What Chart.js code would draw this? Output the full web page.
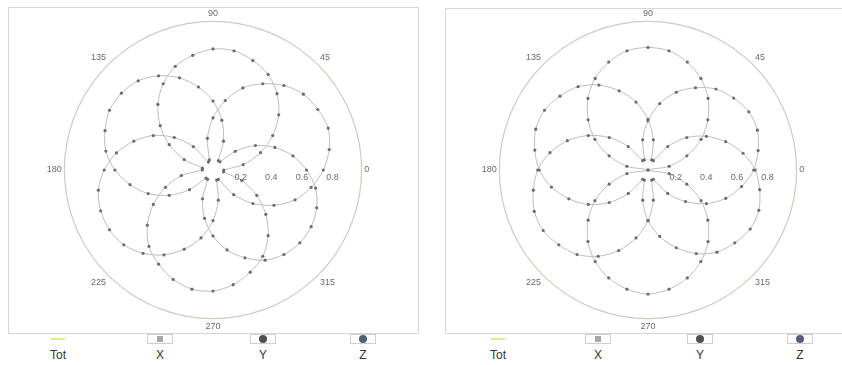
<!DOCTYPE html>
<html>
<head>
<meta charset="utf-8">
<script src="https://cdn.jsdelivr.net/npm/chart.js@4.4.1/dist/chart.umd.min.js"></script>
<style>
  html, body { margin: 0; padding: 0; background: #fff; }
  body { width: 842px; height: 365px; position: relative; overflow: hidden; font-family: "Liberation Sans", Arial, sans-serif; }
  .panel { position: absolute; border: 1px solid #d6d6d6; box-sizing: border-box; }
  #p1 { left: 8px; top: 7px; width: 411px; height: 327px; }
  #p2 { left: 445px; top: 8px; width: 406px; height: 326px; }
  .leg { position: absolute; top: 333px; width: 60px; margin-left: -30px; text-align: center; }
  .mk { height: 13px; position: relative; }
  .box { position: absolute; left: 17px; top: 1px; width: 26px; height: 10px; border: 1px solid #cfcfcf; box-sizing: border-box; }
  .sq { position: absolute; left: 27px; top: 3px; width: 6px; height: 6px; background: #a8a8a8; }
  .dot { position: absolute; left: 26px; top: 2px; width: 8px; height: 8px; border-radius: 50%; }
  .ln { position: absolute; left: 23px; top: 5px; width: 14px; height: 2px; background: #e3ea86; }
  .lt { font-size: 12px; color: #333; line-height: 14px; margin-top: 2px; }
</style>
</head>
<body>
<div class="panel" id="p1"><canvas id="c1"></canvas></div>
<div class="panel" id="p2"><canvas id="c2"></canvas></div>
<div id="legends"></div>
<script>
// ---- data (angles in degrees, counter-clockwise from 0 at right) ----
const dataAngles = [0,10,20,30,40,50,60,70,80,90,100,110,120,130,140,150,160,170,
                    180,190,200,210,220,230,240,250,260,270,280,290,300,310,320,330,340,350];
const angleLabels = [0,45,90,135,180,225,270,315];
const radialTicks = [0.2,0.4,0.6,0.8];
const seriesNames = ['Tot','X','Y','Z'];

// left plot
const totLeft = [0.97,0.97,0.97,0.97,0.97,0.97,0.97,0.97,0.97,0.97,0.97,0.97,0.97,0.97,0.97,0.97,0.97,0.97,
                 0.97,0.97,0.97,0.97,0.97,0.97,0.97,0.97,0.97,0.97,0.97,0.97,0.97,0.97,0.97,0.97,0.97,0.97];
const xLeft = [0.61,0.53,0.43,0.32,0.19,0.07,0.07,0.20,0.33,0.45,0.55,0.64,0.71,0.76,0.78,0.78,0.75,0.71,
               0.64,0.55,0.45,0.33,0.20,0.07,0.07,0.20,0.32,0.43,0.53,0.61,0.68,0.72,0.74,0.74,0.72,0.68];
const yLeft = [0.72,0.77,0.80,0.79,0.77,0.72,0.65,0.57,0.46,0.34,0.21,0.07,0.06,0.20,0.33,0.45,0.55,0.64,
               0.71,0.76,0.78,0.78,0.76,0.71,0.64,0.55,0.45,0.33,0.20,0.07,0.07,0.21,0.34,0.46,0.57,0.65];
const zLeft = [0.07,0.20,0.33,0.45,0.56,0.65,0.72,0.76,0.79,0.79,0.76,0.72,0.65,0.56,0.45,0.33,0.20,0.07,
               0.07,0.21,0.33,0.45,0.56,0.65,0.71,0.76,0.79,0.79,0.76,0.71,0.65,0.56,0.45,0.33,0.20,0.07];

// right plot
const totRight = [0.97,0.97,0.97,0.97,0.97,0.97,0.97,0.97,0.97,0.97,0.97,0.97,0.97,0.97,0.97,0.97,0.97,0.97,
                  0.97,0.97,0.97,0.97,0.97,0.97,0.97,0.97,0.97,0.97,0.97,0.97,0.97,0.97,0.97,0.97,0.97,0.97];
const xRight = [0.70,0.63,0.54,0.44,0.33,0.20,0.07,0.07,0.20,0.33,0.45,0.55,0.64,0.71,0.75,0.78,0.78,0.75,
                0.71,0.64,0.55,0.45,0.33,0.20,0.07,0.07,0.20,0.33,0.44,0.54,0.63,0.70,0.74,0.77,0.77,0.74];
const yRight = [0.69,0.73,0.76,0.76,0.73,0.69,0.62,0.54,0.44,0.32,0.20,0.07,0.07,0.20,0.33,0.45,0.56,0.65,
                0.72,0.76,0.79,0.79,0.76,0.72,0.65,0.56,0.45,0.33,0.20,0.07,0.07,0.20,0.32,0.44,0.54,0.62];
const zRight = [0.00,0.14,0.27,0.40,0.51,0.61,0.69,0.75,0.79,0.80,0.79,0.75,0.69,0.61,0.51,0.40,0.27,0.14,
                0.00,0.14,0.27,0.40,0.51,0.61,0.69,0.75,0.79,0.81,0.79,0.75,0.69,0.61,0.51,0.40,0.27,0.14];

// ---- radar category positions: 5 degree slots, clockwise from top (90) ----
const slots = [];
for (let i = 0; i < 72; i++) slots.push((450 - 5 * i) % 360);
function toSlots(values) {
  return slots.map(a => { const k = dataAngles.indexOf(a); return k >= 0 ? values[k] : null; });
}

const FONT = '"Liberation Sans", Arial, sans-serif';
const tickLabelPlugin = {
  id: 'tickLabels',
  afterDatasetsDraw(chart) {
    const r = chart.scales.r;
    const ctx = chart.ctx;
    const idx = slots.indexOf(0);
    ctx.save();
    ctx.font = '9px ' + FONT;
    ctx.fillStyle = '#6a6a6a';
    ctx.textAlign = 'center';
    ctx.textBaseline = 'middle';
    radialTicks.forEach(v => {
      const p = r.getPointPositionForValue(idx, v);
      ctx.fillText(v.toFixed(1), p.x - 3, p.y + 8);
    });
    ctx.restore();
  }
};

function lobe(label, values) {
  return {
    label, data: toSlots(values), spanGaps: true, fill: false, tension: 0.3,
    borderColor: '#bdbdbd', borderWidth: 1,
    pointRadius: 1.6, pointBackgroundColor: '#6c6c6c', pointBorderWidth: 0
  };
}

function makeChart(id, tot, x, y, z) {
  new Chart(document.getElementById(id), {
    type: 'radar',
    data: {
      labels: slots,
      datasets: [
        { label: seriesNames[0], data: toSlots(tot), spanGaps: true, fill: false, tension: 0.35,
          borderColor: '#cbcdbf', borderWidth: 1.2, pointRadius: 0 },
        lobe(seriesNames[1], x),
        lobe(seriesNames[2], y),
        lobe(seriesNames[3], z)
      ]
    },
    options: {
      responsive: true, maintainAspectRatio: false, animation: false,
      plugins: { legend: { display: false }, tooltip: { enabled: false } },
      scales: {
        r: {
          min: 0, max: 1, startAngle: 0,
          grid: { display: false },
          angleLines: { display: false },
          ticks: { display: false, stepSize: 0.2 },
          pointLabels: {
            display: true, padding: -2, color: '#6a6a6a',
            font: { size: 9, family: FONT },
            callback: (lbl) => angleLabels.includes(lbl) ? String(lbl) : ''
          }
        }
      }
    },
    plugins: [tickLabelPlugin]
  });
}

makeChart('c1', totLeft, xLeft, yLeft, zLeft);
makeChart('c2', totRight, xRight, yRight, zRight);

// ---- legends ----
const legendCenters = [[58,160,263,363],[498,598,700,800]];
const markers = [
  '<div class="ln"></div>',
  '<div class="box"></div><div class="sq"></div>',
  '<div class="box"></div><div class="dot" style="background:#505050"></div>',
  '<div class="box"></div><div class="dot" style="background:#525d78"></div>'
];
const legDiv = document.getElementById('legends');
legendCenters.forEach(row => {
  row.forEach((cx, k) => {
    const d = document.createElement('div');
    d.className = 'leg';
    d.style.left = cx + 'px';
    d.innerHTML = '<div class="mk">' + markers[k] + '</div><div class="lt">' + seriesNames[k] + '</div>';
    legDiv.appendChild(d);
  });
});
</script>
</body>
</html>
